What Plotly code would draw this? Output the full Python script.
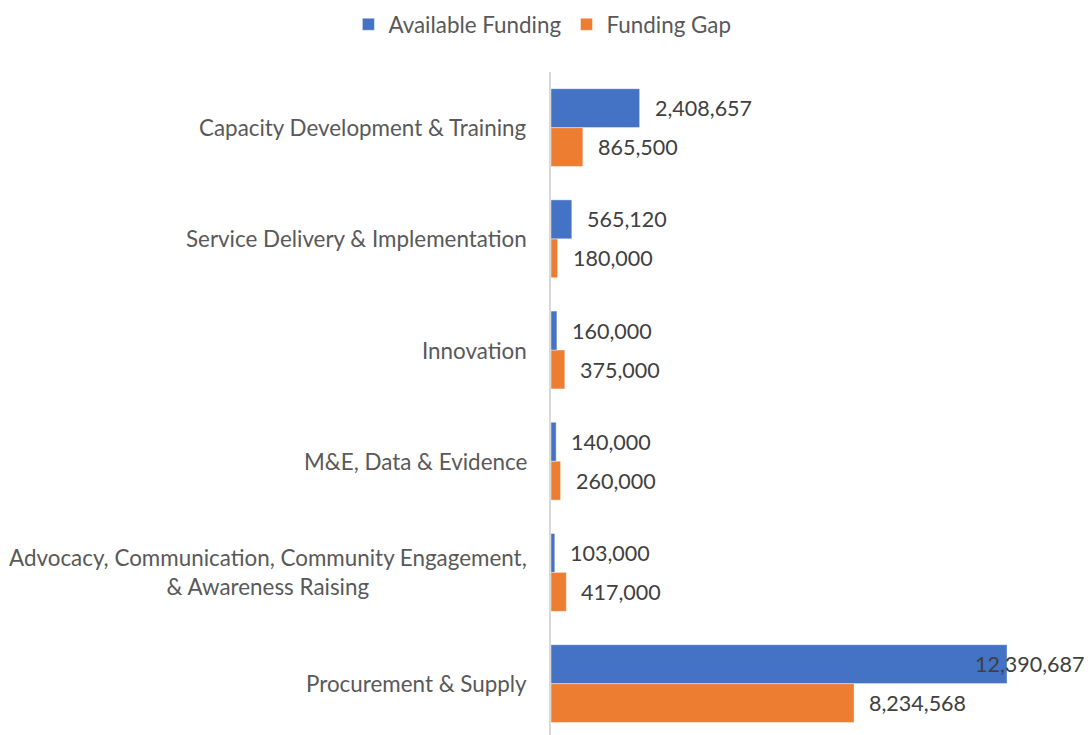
import plotly.graph_objects as go

categories = [
    "Procurement & Supply",
    "Advocacy, Communication, Community Engagement,<br>& Awareness Raising",
    "M&E, Data & Evidence",
    "Innovation",
    "Service Delivery & Implementation",
    "Capacity Development & Training",
]
available_funding = [12390687, 103000, 140000, 160000, 565120, 2408657]
funding_gap = [8234568, 417000, 260000, 375000, 180000, 865500]

BLUE = "#4472C4"
ORANGE = "#ED7D31"
FONT = "Lato"

x_max = max(available_funding) * 541 / 456

fig = go.Figure()
fig.add_trace(go.Bar(
    y=categories, x=funding_gap, orientation="h", name="Funding Gap",
    marker=dict(color=ORANGE, line=dict(width=0.6, color="rgba(255,255,255,0.7)")),
    legendrank=2,
))
fig.add_trace(go.Bar(
    y=categories, x=available_funding, orientation="h", name="Available Funding",
    marker=dict(color=BLUE, line=dict(width=0.6, color="rgba(255,255,255,0.7)")),
    legendrank=1,
))

annotations = []
label_font = dict(family=FONT, size=21.5, color="#404040")
for series, shift in ((available_funding, 19.5), (funding_gap, -19.5)):
    for cat, v in zip(categories, series):
        txt = f"{v:,}"
        if v > x_max * 0.8:
            annotations.append(dict(x=1, xref="paper", y=cat, yref="y", text=txt,
                                    showarrow=False, xanchor="right", xshift=-5,
                                    yshift=shift, font=label_font))
        else:
            annotations.append(dict(x=v, xref="x", y=cat, yref="y", text=txt,
                                    showarrow=False, xanchor="left", xshift=13,
                                    yshift=shift, font=label_font))
for cat in categories:
    annotations.append(dict(x=0, xref="paper", y=cat, yref="y", text=cat,
                            showarrow=False, xanchor="right", xshift=-22,
                            align="center", font=dict(family=FONT, size=22.4, color="#595959")))

fig.update_layout(
    width=1084, height=727,
    margin=dict(l=543, r=0, t=64, b=0),
    paper_bgcolor="white", plot_bgcolor="white",
    barmode="group", bargap=0.30, bargroupgap=0,
    font=dict(family=FONT, size=22, color="#595959"),
    showlegend=True,
    legend=dict(orientation="h", xref="container", yref="container",
                x=0.493, xanchor="center", y=0.977, yanchor="middle",
                font=dict(family=FONT, size=22.4, color="#595959"),
                itemwidth=30, tracegroupgap=0),
    xaxis=dict(range=[0, x_max], visible=False, showgrid=False, zeroline=False),
    yaxis=dict(range=[-0.462, 5.5], showticklabels=False, showline=True,
               linecolor="#D9D9D9", linewidth=1.5,
               ticks="", showgrid=False, zeroline=False),
    annotations=annotations,
)

fig.write_html("out.html")
